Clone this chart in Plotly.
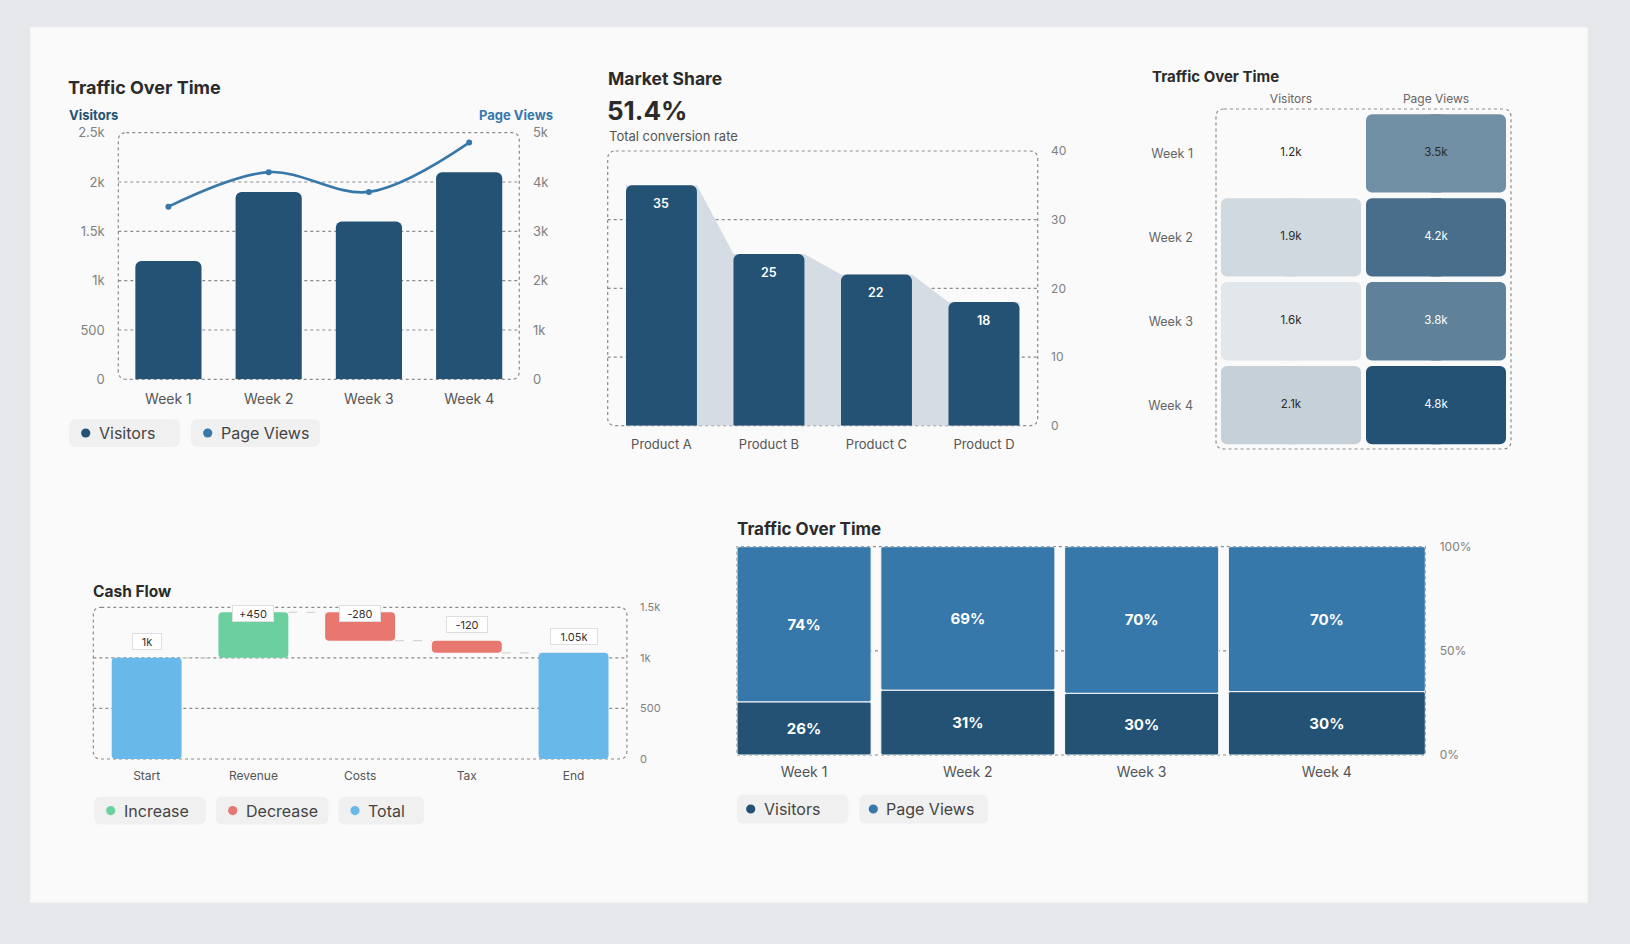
import plotly.graph_objects as go

W, H = 1630, 944

# ---------------- data ----------------
weeks = ["Week 1", "Week 2", "Week 3", "Week 4"]
visitors = [1200, 1900, 1600, 2100]
page_views = [3500, 4200, 3800, 4800]
visitor_tickvals = [0, 500, 1000, 1500, 2000, 2500]
visitor_ticktext = ["0", "500", "1k", "1.5k", "2k", "2.5k"]
pv_tickvals = [0, 1000, 2000, 3000, 4000, 5000]
pv_ticktext = ["0", "1k", "2k", "3k", "4k", "5k"]
heat_columns = ["Visitors", "Page Views"]

products = ["Product A", "Product B", "Product C", "Product D"]
market_share = [35, 25, 22, 18]
share_tickvals = [0, 10, 20, 30, 40]
kpi_value = "51.4%"
kpi_caption = "Total conversion rate"

cash_steps = ["Start", "Revenue", "Costs", "Tax", "End"]
cash_measures = ["absolute", "relative", "relative", "relative", "total"]
cash_values = [1000, 450, -280, -120, None]
cash_tickvals = [0, 500, 1000, 1500]
cash_ticktext = ["0", "500", "1k", "1.5k"]

pct_tickvals = [0, 50, 100]
pct_ticktext = ["0%", "50%", "100%"]

# ---------------- style ----------------
FONT = "Inter, Noto Sans, sans-serif"
DARK = "#245275"
MID = "#3778ab"
AREA = "#d5dce3"
INC = "#6bd09d"
DEC = "#e8786f"
TOT = "#69b8ea"
TITLE = "#2b2b2b"
TICK = "#808080"
LABEL = "#555555"
GRID = "#8c8c8c"
CARD = "#fafafa"
PAGE = "#e5e7eb"
PILL = "#f0f0f0"


def X(px):
    return px / W


def Y(py):
    return 1 - py / H


def dxr(a, b):
    return [X(a), X(b)]


def dyr(top, bottom):
    return [Y(bottom), Y(top)]


def rr(x0, y0, x1, y1, r):
    c = lambda x, y: f"{X(x):.5f},{Y(y):.5f}"
    return ("M" + c(x0 + r, y0) + " L" + c(x1 - r, y0) + " Q" + c(x1, y0) + " " + c(x1, y0 + r)
            + " L" + c(x1, y1 - r) + " Q" + c(x1, y1) + " " + c(x1 - r, y1)
            + " L" + c(x0 + r, y1) + " Q" + c(x0, y1) + " " + c(x0, y1 - r)
            + " L" + c(x0, y0 + r) + " Q" + c(x0, y0) + " " + c(x0 + r, y0) + " Z")


def hex_rgb(h):
    h = h.lstrip("#")
    return [int(h[i:i + 2], 16) for i in (0, 2, 4)]


shapes = []
annotations = []

# card
shapes.append(dict(type="rect", xref="paper", yref="paper", x0=X(30), x1=X(1588), y0=Y(903), y1=Y(27),
                   fillcolor=CARD, line=dict(color="#ececec", width=1), layer="below"))


def dotted_box(x0, y0, x1, y1, r=8):
    shapes.append(dict(type="path", path=rr(x0, y0, x1, y1, r), xref="paper", yref="paper",
                       line=dict(color=GRID, width=1.2, dash="dot"), layer="below"))


def grid_lines(vals, yref, x0, x1):
    for v in vals:
        shapes.append(dict(type="line", xref="paper", yref=yref, x0=X(x0), x1=X(x1), y0=v, y1=v,
                           line=dict(color=GRID, width=1.2, dash="dot"), layer="below"))


def text(t, x, y, size, color=TITLE, weight=400, anchor="left"):
    annotations.append(dict(text=t, x=X(x), y=Y(y), xref="paper", yref="paper", xanchor=anchor,
                            yanchor="middle", showarrow=False,
                            font=dict(family=FONT, size=size, color=color, weight=weight)))


def pill(x0, x1, y0, y1, dot_x, text_x, color, label):
    shapes.append(dict(type="path", path=rr(x0, y0, x1, y1, 7), xref="paper", yref="paper",
                       fillcolor=PILL, line=dict(width=0), layer="below"))
    cy = (y0 + y1) / 2
    shapes.append(dict(type="circle", xref="paper", yref="paper", x0=X(dot_x - 4.6), x1=X(dot_x + 4.6),
                       y0=Y(cy + 4.6), y1=Y(cy - 4.6), fillcolor=color, line=dict(width=0)))
    text(label, text_x, cy, 16, "#444444")


def tick_axis(**kw):
    base = dict(showgrid=False, zeroline=False, showline=False, fixedrange=True, automargin=False,
                ticks="outside", tickcolor="rgba(0,0,0,0)")
    base.update(kw)
    return base


fig = go.Figure()

# ================= Panel 1: Traffic over time (bar + line) =================
P1 = (118.3, 132.7, 519.3, 379.3)
fig.add_trace(go.Bar(x=weeks, y=visitors, name="Visitors", width=0.66,
                     marker=dict(color=DARK, cornerradius=6, line=dict(width=0)),
                     xaxis="x", yaxis="y", hoverinfo="skip"))
fig.add_trace(go.Scatter(x=weeks, y=page_views, name="Page Views", mode="lines+markers",
                         line=dict(color=MID, width=2.6, shape="spline", smoothing=1.0),
                         marker=dict(color=MID, size=6), xaxis="x", yaxis="y2", hoverinfo="skip"))
dotted_box(*P1)
grid_lines(visitor_tickvals[1:-1], "y", P1[0], P1[2])
text("Traffic Over Time", 66, 87, 18, TITLE, 700)
text("Visitors", 66.5, 114.5, 13, DARK, 700)
text("Page Views", 555, 114.5, 13, MID, 700, anchor="right")
pill(69.3, 180, 419, 447, 85.7, 96.5, DARK, "Visitors")
pill(191, 320, 419, 447, 207.7, 218.5, MID, "Page Views")

# ================= Panel 2: Market share =================
P2 = (607.7, 151, 1037.7, 425.7)
BW = 0.66
# grey area joining bar tops (drawn through the x2/y3 axes, beneath the bars)
area_pts = [(-BW / 2, 0)]
for i, v in enumerate(market_share):
    area_pts += [(i - BW / 2, v), (i + BW / 2, v)]
area_pts.append((len(market_share) - 1 + BW / 2, 0))
area_path = "M" + " L".join(f"{x:.4f},{y}" for x, y in area_pts) + " Z"
shapes.append(dict(type="path", path=area_path, xref="x2", yref="y3", fillcolor=AREA,
                   line=dict(width=0), layer="below"))
fig.add_trace(go.Bar(x=list(range(len(products))), y=market_share, width=BW,
                     marker=dict(color=DARK, cornerradius=6, line=dict(width=0)),
                     xaxis="x2", yaxis="y3", hoverinfo="skip"))
for i, v in enumerate(market_share):
    annotations.append(dict(text=str(v), x=i, y=v, xref="x2", yref="y3", yshift=-18, showarrow=False,
                            font=dict(family=FONT, size=12.5, color="white", weight=600)))
dotted_box(*P2)
grid_lines(share_tickvals[1:-1], "y3", P2[0], P2[2])
text("Market Share", 606, 78, 17.5, TITLE, 700)
text(kpi_value, 605, 110, 26, TITLE, 700)
text(kpi_caption, 606.5, 136.5, 13, LABEL)

# ================= Panel 3: heatmap (rounded cells) =================
HX = (1218.5, 1508.5)
HY = (111.5, 447.1)
unit_x = (HX[1] - HX[0]) / len(heat_columns)
half = (unit_x - 5) / 2 / unit_x          # half cell width in axis units (5px gap)
ov = 10.0 / unit_x                         # halves overlap past the centre so only outer corners round
row_w = 1 - 5.6 / ((HY[1] - HY[0]) / len(weeks))
cell_y, cell_c, cell_v = [], [], []
for wk, v, p in zip(weeks, visitors, page_views):
    for ci, val in enumerate([v, p]):
        cell_y.append(wk)
        cell_c.append(ci + 0.5)
        cell_v.append(val)
vmin, vmax = min(cell_v), max(cell_v)
cscale = [[0, CARD], [1, DARK]]
for sign in (1, -1):
    fig.add_trace(go.Bar(orientation="h", y=cell_y, x=[sign * (half + ov)] * len(cell_v),
                         base=[c - sign * ov for c in cell_c], width=row_w,
                         marker=dict(color=cell_v, colorscale=cscale, cmin=vmin, cmax=vmax,
                                     cornerradius=6, line=dict(width=0)),
                         xaxis="x3", yaxis="y4", hoverinfo="skip"))
c0, c1 = hex_rgb(CARD), hex_rgb(DARK)
txt_colors = []
for val in cell_v:
    t = (val - vmin) / (vmax - vmin)
    r, g, b = [a + (bb - a) * t for a, bb in zip(c0, c1)]
    txt_colors.append("#2b2b2b" if (r * 299 + g * 587 + b * 114) / 1000 > 128 else "white")
fig.add_trace(go.Scatter(x=cell_c, y=cell_y, mode="text", text=[f"{v / 1000:.1f}k" for v in cell_v],
                         textfont=dict(family=FONT, size=11.5, color=txt_colors),
                         xaxis="x3", yaxis="y4", hoverinfo="skip"))
dotted_box(1216, 109, 1511, 449)
text("Traffic Over Time", 1150, 76, 15, TITLE, 700)

# ================= Panel 4: cash flow waterfall =================
P4 = (93.3, 607.3, 626.9, 759)
bases, heights, colors, labels, tops, levels = [], [], [], [], [], []
running = 0
for m, v in zip(cash_measures, cash_values):
    if m == "absolute":
        b, h, running, col = 0, v, v, TOT
        lab = f"{v / 1000:g}k"
    elif m == "relative":
        b, h, col = running, v, (INC if v > 0 else DEC)
        running += v
        lab = f"{v:+d}"
    else:
        b, h, col = 0, running, TOT
        lab = f"{running / 1000:g}k"
    bases.append(b)
    heights.append(h)
    colors.append(col)
    labels.append(lab)
    tops.append(max(b, b + h))
    levels.append(running)
WB = 0.655
fig.add_trace(go.Bar(x=list(range(len(cash_steps))), y=heights, base=bases, width=WB,
                     marker=dict(color=colors, cornerradius=4, line=dict(width=0)),
                     xaxis="x4", yaxis="y5", hoverinfo="skip"))
cx, cy = [], []
for i in range(len(cash_steps) - 1):
    cx += [i + WB / 2, i + 1 - WB / 2, None]
    cy += [levels[i], levels[i], None]
fig.add_trace(go.Scatter(x=cx, y=cy, mode="lines", line=dict(color="#d6d6d6", width=1.2, dash="dash"),
                         xaxis="x4", yaxis="y5", hoverinfo="skip"))
px_per_unit = (P4[3] - P4[1]) / cash_tickvals[-1]
cap = cash_tickvals[-1] - 6 / px_per_unit
for i, (t, lab) in enumerate(zip(tops, labels)):
    annotations.append(dict(text=lab, x=i, y=min(t + 16 / px_per_unit, cap), xref="x4", yref="y5",
                            showarrow=False, bgcolor="white", bordercolor="#dedede", borderwidth=1,
                            borderpad=0, width=16 + 6 * len(lab), height=15,
                            font=dict(family=FONT, size=11, color="#333333")))
dotted_box(*P4)
grid_lines(cash_tickvals[1:-1], "y5", P4[0], P4[2])
text("Cash Flow", 91, 591, 15.5, TITLE, 700)
pill(94.3, 206, 796.7, 824.5, 110.7, 121.5, INC, "Increase")
pill(216, 328.3, 796.7, 824.5, 232.7, 243.5, DEC, "Decrease")
pill(338.3, 424, 796.7, 824.5, 355, 365.5, TOT, "Total")

# ================= Panel 5: marimekko =================
P5 = (737, 546.7, 1425.3, 755)
totals = [v + p for v, p in zip(visitors, page_views)]
gap_px = 9.7
unit_px = ((P5[2] - P5[0]) - gap_px * (len(totals) - 1)) / sum(totals)
gap_u = gap_px / unit_px
centers, pos = [], 0
for t in totals:
    centers.append(pos + t / 2)
    pos += t + gap_u
x5_range = [0, pos - gap_u]
v_share = [v / t * 100 for v, t in zip(visitors, totals)]
p_share = [p / t * 100 for p, t in zip(page_views, totals)]
shapes.append(dict(type="rect", xref="paper", yref="paper", x0=X(P5[0]), x1=X(P5[2]), y0=Y(P5[3]), y1=Y(P5[1]),
                   line=dict(color=GRID, width=1.2, dash="dot"), layer="below"))
grid_lines([50], "y6", P5[0], P5[2])
fig.add_trace(go.Bar(x=centers, y=v_share, width=totals, base=0,
                     text=[f"{round(s)}%" for s in v_share], textposition="inside",
                     insidetextanchor="middle", textangle=0,
                     textfont=dict(family=FONT, size=15, color="white", weight=700),
                     marker=dict(color=DARK, cornerradius=2, line=dict(color=CARD, width=1)),
                     xaxis="x5", yaxis="y6", hoverinfo="skip"))
fig.add_trace(go.Bar(x=centers, y=p_share, width=totals, base=v_share,
                     text=[f"{round(s)}%" for s in p_share], textposition="inside",
                     insidetextanchor="middle", textangle=0,
                     textfont=dict(family=FONT, size=15, color="white", weight=700),
                     marker=dict(color=MID, cornerradius=2, line=dict(color=CARD, width=1)),
                     xaxis="x5", yaxis="y6", hoverinfo="skip"))
text("Traffic Over Time", 735, 529, 17, TITLE, 700)
pill(736.7, 848.3, 794.5, 823.5, 750.7, 761.5, DARK, "Visitors")
pill(859.3, 988, 794.5, 823.5, 873.3, 884, MID, "Page Views")

# ================= layout =================
fig.update_layout(
    width=W, height=H, margin=dict(l=0, r=0, t=0, b=0, pad=0, autoexpand=False), autosize=False,
    paper_bgcolor=PAGE, plot_bgcolor="rgba(0,0,0,0)",
    font=dict(family=FONT, color=LABEL),
    showlegend=False, barmode="overlay", hovermode=False,
    shapes=shapes, annotations=annotations,
    # panel 1
    xaxis=tick_axis(domain=dxr(P1[0], P1[2]), anchor="y", type="category", range=[-0.5, 3.5],
                    ticklen=7, tickfont=dict(size=14, color=LABEL)),
    yaxis=tick_axis(domain=dyr(P1[1], P1[3]), anchor="x", range=[0, visitor_tickvals[-1]],
                    tickvals=visitor_tickvals, ticktext=visitor_ticktext, ticklen=10,
                    tickfont=dict(size=13, color=TICK)),
    yaxis2=tick_axis(overlaying="y", side="right", anchor="x", range=[0, pv_tickvals[-1]],
                     tickvals=pv_tickvals, ticktext=pv_ticktext, ticklen=10,
                     tickfont=dict(size=13, color=TICK)),
    # panel 2
    xaxis2=tick_axis(domain=dxr(P2[0], P2[2]), anchor="y3", range=[-0.5, len(products) - 0.5],
                     tickvals=list(range(len(products))), ticktext=products, ticklen=7,
                     tickfont=dict(size=13, color=LABEL)),
    yaxis3=tick_axis(domain=dyr(P2[1], P2[3]), anchor="x2", side="right", range=[0, share_tickvals[-1]],
                     tickvals=share_tickvals, ticklen=10, tickfont=dict(size=12, color=TICK)),
    # panel 3
    xaxis3=tick_axis(domain=dxr(HX[0], HX[1]), anchor="y4", side="top", range=[0, len(heat_columns)],
                     tickvals=[i + 0.5 for i in range(len(heat_columns))], ticktext=heat_columns,
                     ticklen=3, tickfont=dict(size=12, color="#666666")),
    yaxis4=tick_axis(domain=dyr(HY[0], HY[1]), anchor="x3", type="category", autorange="reversed",
                     ticklen=22, tickfont=dict(size=12.5, color="#666666")),
    # panel 4
    xaxis4=tick_axis(domain=dxr(P4[0], P4[2]), anchor="y5", range=[-0.5, len(cash_steps) - 0.5],
                     tickvals=list(range(len(cash_steps))), ticktext=cash_steps, ticklen=6,
                     tickfont=dict(size=12, color=LABEL)),
    yaxis5=tick_axis(domain=dyr(P4[1], P4[3]), anchor="x4", side="right", range=[0, cash_tickvals[-1]],
                     tickvals=cash_tickvals, ticktext=cash_ticktext, ticklen=10,
                     tickfont=dict(size=11, color=TICK)),
    # panel 5
    xaxis5=tick_axis(domain=dxr(P5[0], P5[2]), anchor="y6", range=x5_range,
                     tickvals=centers, ticktext=weeks, ticklen=4, tickfont=dict(size=14, color=LABEL)),
    yaxis6=tick_axis(domain=dyr(P5[1], P5[3]), anchor="x5", side="right", range=[0, 100],
                     tickvals=pct_tickvals, ticktext=pct_ticktext, ticklen=11,
                     tickfont=dict(size=12, color=TICK)),
)

fig.write_html(
    "out.html",
    config={"displayModeBar": False, "responsive": False},
    post_script="document.body.style.margin='0';document.body.style.padding='0';"
                "document.body.style.overflow='hidden';document.body.style.background='#e5e7eb';",
)
